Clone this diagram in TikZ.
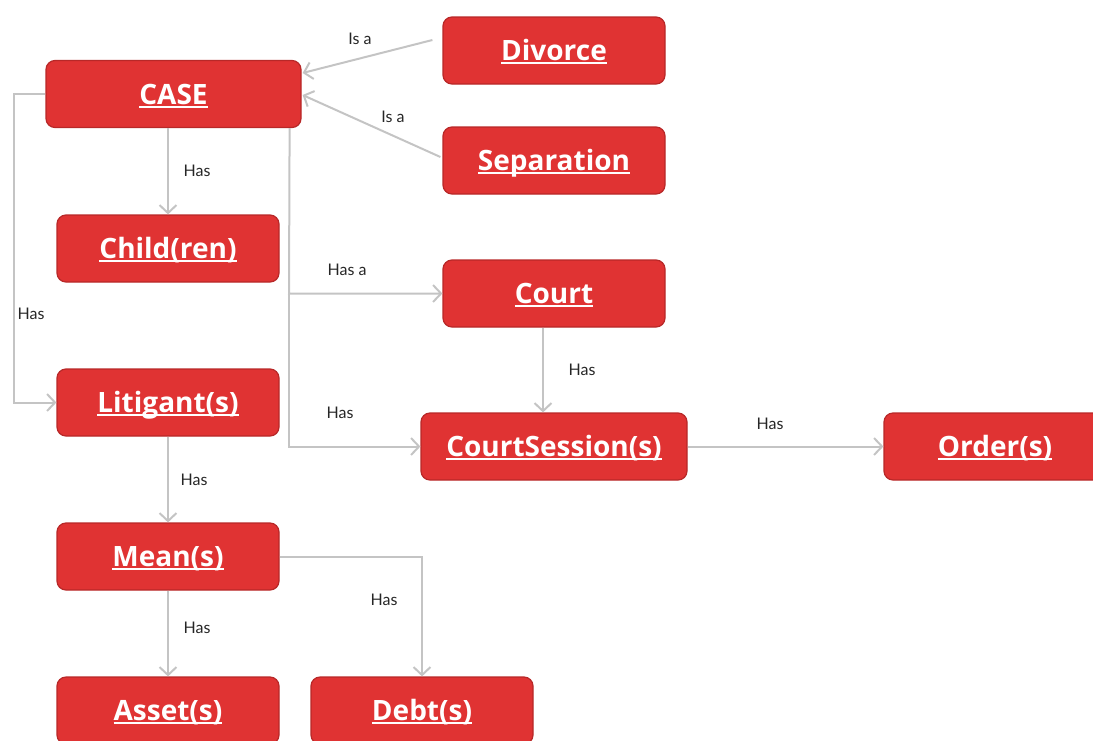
\documentclass[tikz,border=0pt]{standalone}
\usepackage{fontspec}
\setmainfont{Lato}
\newfontfamily\boxfont{Open Sans}
\usetikzlibrary{arrows.meta,calc}
\definecolor{boxred}{HTML}{E03333}
\definecolor{boxedge}{HTML}{B82828}
\definecolor{linegray}{HTML}{C4C4C4}
\newsavebox{\ulbox}
\newcommand{\ul}[1]{\sbox{\ulbox}{#1}\rlap{\rule[-3.5pt]{\wd\ulbox}{1.6pt}}\usebox{\ulbox}}
\tikzset{
  ent/.style={draw=boxedge, line width=1.2pt, fill=boxred, rounded corners=9pt,
    minimum width=222pt, minimum height=67pt, inner sep=0pt,
    text height=20pt, text depth=0pt,
    text=white, font=\boxfont\fontsize{28}{30}\selectfont\bfseries},
  rel/.style={draw=linegray, line width=2pt, -{Straight Barb[length=8pt,width=17pt,line width=2pt]}},
  lbl/.style={font=\fontsize{16}{18}\selectfont, text=black!85, inner sep=0pt}
}
\begin{document}
\begin{tikzpicture}[x=1pt,y=-1pt]
\useasboundingbox (0,0) rectangle (1093,740);
\node[ent, minimum width=255pt] (case) at (173.5,94) {\ul{CASE}};
\node[ent] (divorce) at (554,50.5) {\ul{Divorce}};
\node[ent] (separation) at (554,160.5) {\ul{Separation}};
\node[ent] (child) at (168,248.5) {\ul{Child(ren)}};
\node[ent] (court) at (554,293.5) {\ul{Court}};
\node[ent] (litigant) at (168,402.5) {\ul{Litigant(s)}};
\node[ent, minimum width=266pt] (session) at (554,446.5) {\ul{CourtSession(s)}};
\node[ent] (order) at (995,446.5) {\ul{Order(s)}};
\node[ent] (mean) at (168,556.5) {\ul{Mean(s)}};
\node[ent] (asset) at (168,710.5) {\ul{Asset(s)}};
\node[ent] (debt) at (422,710.5) {\ul{Debt(s)}};

\coordinate (dstart) at ($(divorce.west)+(-10,-10.5)$);
\coordinate (dend) at ($(case.east)+(1,-21)$);
\coordinate (sstart) at ($(separation.west)+(-2,-3.5)$);
\coordinate (send) at ($(case.east)+(1,1)$);
\coordinate (bus) at ($(case.south east)+(-12,0)$);
\coordinate (lbend1) at (14,94);
\coordinate (lbend2) at (14,402.5);
\coordinate (cbend) at (289,293.5);
\coordinate (sbend) at (289,446.5);
\coordinate (cstart) at ($(court.south)+(-11,0)$);
\coordinate (dbend) at (422,556.5);

\draw[rel] (dstart) -- (dend);
\draw[rel] (sstart) -- (send);
\draw[rel] (child.north |- case.south) -- (child.north);
\draw[rel] (case.west) -- (lbend1) -- (lbend2) -- (litigant.west);
\draw[rel] (bus) -- (cbend) -- (court.west);
\draw[rel] (cbend) -- (sbend) -- (session.west);
\draw[rel] (cstart) -- (cstart |- session.north);
\draw[rel] (session.east) -- (order.west);
\draw[rel] (litigant.south) -- (mean.north);
\draw[rel] (mean.south) -- (asset.north);
\draw[rel] (mean.east) -- (dbend) -- (debt.north);

\node[lbl] (l1) at (360,39) {Is a};
\node[lbl] (l2) at (393,117) {Is a};
\node[lbl] (l3) at (197,171) {Has};
\node[lbl] (l4) at (31,314) {Has};
\node[lbl] (l5) at (347,270) {Has a};
\node[lbl] (l6) at (340,413) {Has};
\node[lbl] (l7) at (582,370) {Has};
\node[lbl] (l8) at (770,424) {Has};
\node[lbl] (l9) at (194,480) {Has};
\node[lbl] (l10) at (197,628) {Has};
\node[lbl] (l11) at (384,600) {Has};
\end{tikzpicture}
\end{document}
